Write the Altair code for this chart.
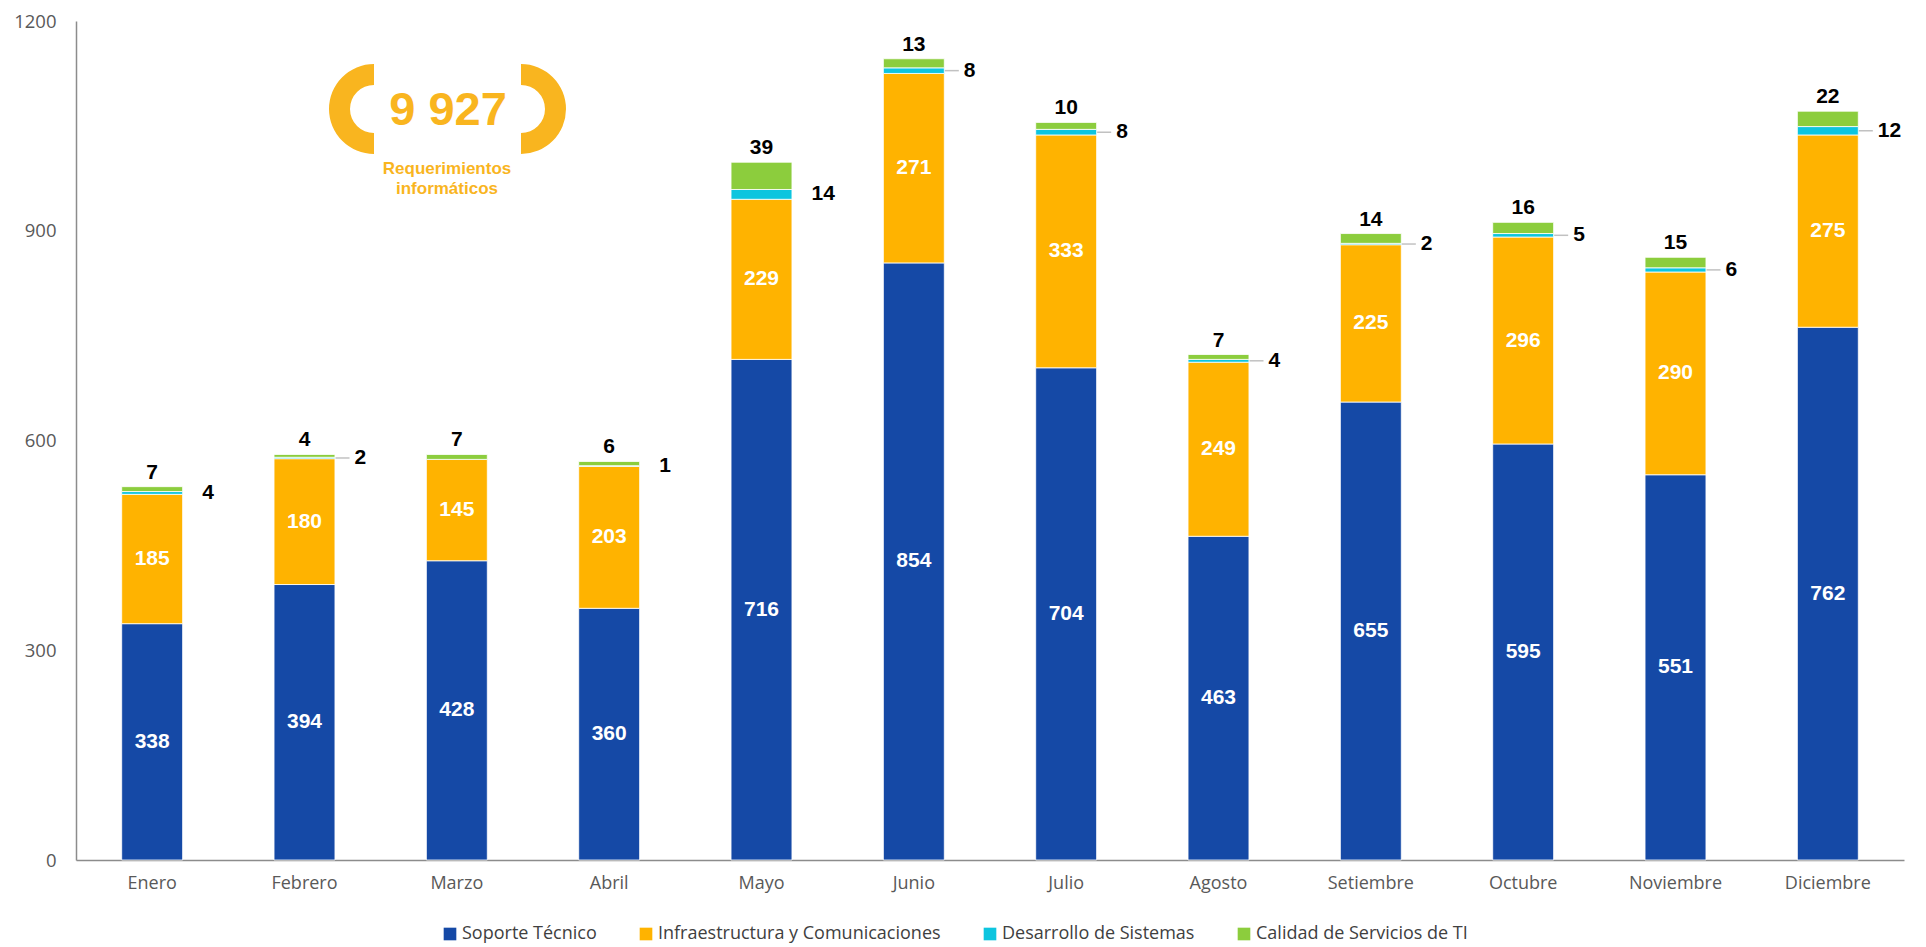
import altair as alt
import pandas as pd

# ---------------- data ----------------
meses = ["Enero", "Febrero", "Marzo", "Abril", "Mayo", "Junio", "Julio",
         "Agosto", "Setiembre", "Octubre", "Noviembre", "Diciembre"]
soporte = [338, 394, 428, 360, 716, 854, 704, 463, 655, 595, 551, 762]
infraestructura = [185, 180, 145, 203, 229, 271, 333, 249, 225, 296, 290, 275]
desarrollo = [4, 2, 0, 1, 14, 8, 8, 4, 2, 5, 6, 12]
calidad = [7, 4, 7, 6, 39, 13, 10, 7, 14, 16, 15, 22]
series = ["Soporte Técnico", "Infraestructura y Comunicaciones",
          "Desarrollo de Sistemas", "Calidad de Servicios de TI"]
colores = ["#1549A6", "#FFB300", "#0DC5DF", "#8CCD3D"]
meses_con_guia = ["Febrero", "Junio", "Julio", "Agosto", "Setiembre",
                  "Octubre", "Noviembre", "Diciembre"]
total_texto = "9 927"
subtitulo_1 = "Requerimientos"
subtitulo_2 = "informáticos"
y_ticks = [0, 300, 600, 900, 1200]

# ---------------- tables ----------------
rows = []
for i, m in enumerate(meses):
    base = 0
    for k, vals in enumerate([soporte, infraestructura, desarrollo, calidad]):
        v = vals[i]
        rows.append({"mes": m, "serie": series[k], "orden": k, "valor": v,
                     "y0": base, "y1": base + v, "mid": base + v / 2})
        base += v
df = pd.DataFrame(rows)
df_bar = df[df["valor"] > 0]
df_in = df[(df["orden"] <= 1)]
df_des = df[(df["orden"] == 2) & (df["valor"] > 0)]
df_guia = df_des[df_des["mes"].isin(meses_con_guia)]
df_cal = df[df["orden"] == 3]

W, H = 1828, 839
gold = "#F9B51F"

x_enc = alt.X("mes:N", sort=meses, title=None,
              scale=alt.Scale(paddingInner=0.6, paddingOuter=0.3),
              axis=alt.Axis(labelAngle=0, ticks=False, labelPadding=14,
                            labelFont="Open Sans", labelFontSize=18,
                            labelColor="#595959", domainColor="#8C8C8C",
                            domainWidth=1.5))
y_scale = alt.Scale(domain=[0, 1200], nice=False)

bars = alt.Chart(df_bar).mark_bar(stroke="#ffffff", strokeWidth=0.8).encode(
    x=x_enc,
    y=alt.Y("y0:Q", scale=y_scale, title=None,
            axis=alt.Axis(values=y_ticks, grid=False, ticks=False, labelPadding=20,
                          format="d",
                          labelFont="Open Sans", labelFontSize=18.5,
                          labelColor="#595959", domainColor="#8C8C8C",
                          domainWidth=1.5)),
    y2="y1:Q",
    color=alt.Color("serie:N", sort=series,
                    scale=alt.Scale(domain=series, range=colores),
                    legend=alt.Legend(title=None, orient="none", direction="horizontal",
                                      legendX=365, legendY=904,
                                      symbolType="square", symbolSize=160,
                                      symbolStrokeWidth=0, labelFont="Open Sans",
                                      labelFontSize=18, labelColor="#404040",
                                      labelLimit=0,
                                      labelOffset=3, columnPadding=40)),
    order=alt.Order("orden:Q"),
)

lbl_in = alt.Chart(df_in).mark_text(
    font="Liberation Sans", fontWeight="bold", fontSize=21, color="#ffffff",
    baseline="middle").encode(
    x=alt.X("mes:N", sort=meses), y=alt.Y("mid:Q", scale=y_scale),
    text="valor:Q")

guias = alt.Chart(df_guia).mark_tick(
    size=14, thickness=1.5, xOffset=38, color="#A6A6A6").encode(
    x=alt.X("mes:N", sort=meses), y=alt.Y("mid:Q", scale=y_scale))

lbl_des = alt.Chart(df_des).mark_text(
    font="Liberation Sans", fontWeight="bold", fontSize=21, color="#000000",
    align="left", baseline="middle", dx=50).encode(
    x=alt.X("mes:N", sort=meses), y=alt.Y("mid:Q", scale=y_scale),
    text="valor:Q")

lbl_cal = alt.Chart(df_cal).mark_text(
    font="Liberation Sans", fontWeight="bold", fontSize=21, color="#000000",
    baseline="alphabetic", dy=-8).encode(
    x=alt.X("mes:N", sort=meses), y=alt.Y("y1:Q", scale=y_scale),
    text="valor:Q")

# ---------------- logo annotation ----------------
df_logo = pd.DataFrame({"t": [total_texto]})
paren_l = alt.Chart(df_logo).mark_arc(
    color=gold, radius=45, radius2=24, theta=3.1416, theta2=6.2832).encode(
    x=alt.value(298), y=alt.value(88))
paren_r = alt.Chart(df_logo).mark_arc(
    color=gold, radius=45, radius2=24, theta=0, theta2=3.1416).encode(
    x=alt.value(445), y=alt.value(88))
num = alt.Chart(df_logo).mark_text(
    font="Liberation Sans", fontWeight="bold", fontSize=47, color=gold,
    baseline="middle").encode(x=alt.value(372), y=alt.value(90), text="t:N")
sub1 = alt.Chart(pd.DataFrame({"t": [subtitulo_1]})).mark_text(
    font="Liberation Sans", fontWeight="bold", fontSize=17, color=gold,
    baseline="middle").encode(x=alt.value(371), y=alt.value(148), text="t:N")
sub2 = alt.Chart(pd.DataFrame({"t": [subtitulo_2]})).mark_text(
    font="Liberation Sans", fontWeight="bold", fontSize=17, color=gold,
    baseline="middle").encode(x=alt.value(371), y=alt.value(168), text="t:N")

chart = alt.layer(bars, lbl_in, guias, lbl_des, lbl_cal,
                  paren_l, paren_r, num, sub1, sub2).properties(
    width=W, height=H,
    autosize=alt.AutoSizeParams(type="none"),
    padding={"left": 68, "top": 13, "right": 14, "bottom": 86},
).configure_view(stroke=None)

chart.save("out.html", embed_options={"renderer": "svg", "actions": False})
